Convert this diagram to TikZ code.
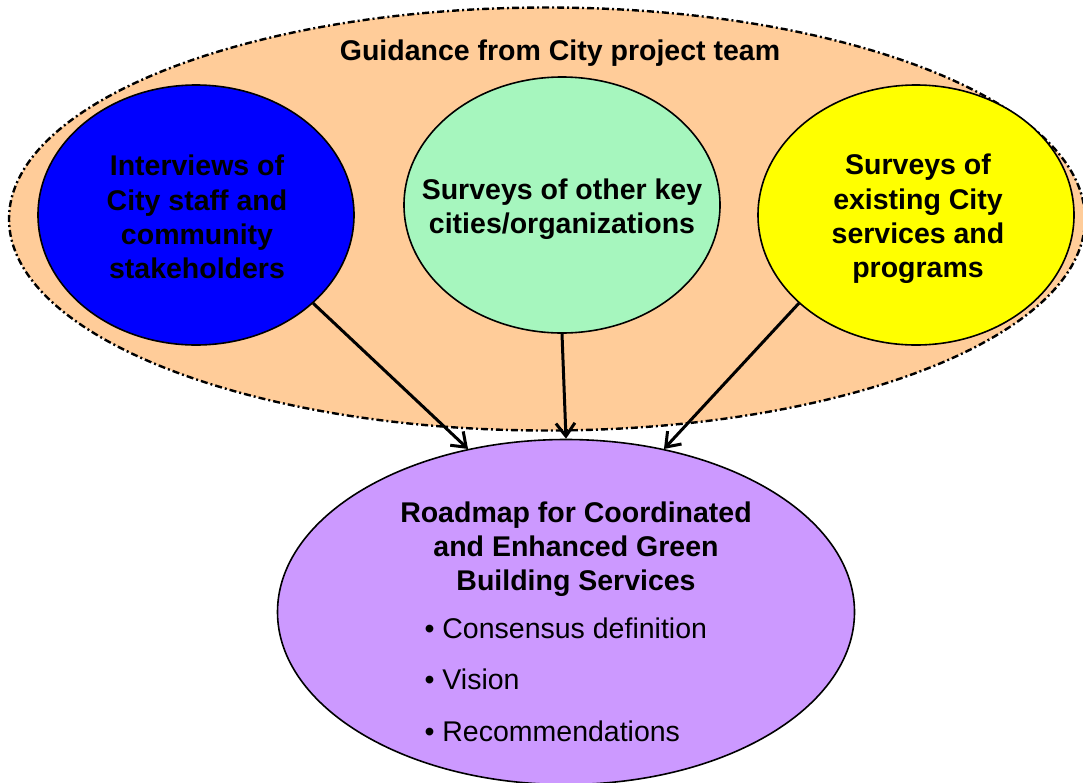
\documentclass[tikz,border=0pt]{standalone}
\usepackage{fontspec}
\setmainfont{Liberation Sans}
\usetikzlibrary{shapes.geometric,arrows.meta}
\definecolor{peach}{HTML}{FFCC99}
\definecolor{bblue}{HTML}{0000FF}
\definecolor{mint}{HTML}{A6F6BE}
\definecolor{yel}{HTML}{FFFF00}
\definecolor{lilac}{HTML}{CC99FF}
\tikzset{
  oval/.style={ellipse, draw=black, line width=1.6pt, inner sep=0pt},
  lbl/.style={font=\fontsize{28.5}{34.3}\selectfont\bfseries, align=center, text=black},
  conn/.style={line width=3pt, -{Straight Barb[length=13pt,width=19pt,line width=3pt]}},
}
\begin{document}
\begin{tikzpicture}[x=1pt,y=-1pt]
\useasboundingbox (0,0) rectangle (1083,782);
\node[ellipse, fill=peach, draw=black, line width=2.4pt, dash pattern=on 7pt off 3pt on 2pt off 3pt, minimum width=1076pt, minimum height=423pt, inner sep=0pt] (team) at (547,219) {};
\node[lbl] (teamtxt) at (560,53) {Guidance from City project team};
\node[oval, fill=bblue, minimum width=316pt, minimum height=260pt] (blue) at (196,215) {};
\node[oval, fill=mint, minimum width=316pt, minimum height=256pt] (green) at (562,205) {};
\node[oval, fill=yel, minimum width=316pt, minimum height=260pt] (yellow) at (916,215) {};
\node[oval, fill=lilac, minimum width=577pt, minimum height=345pt] (road) at (566,612) {};
\node[lbl] (bluetxt) at (197,217) {Interviews of\\City staff and\\community\\stakeholders};
\node[lbl] (greentxt) at (562,209) {Surveys of other key\\cities/organizations};
\node[lbl] (yellowtxt) at (918,219) {Surveys of\\existing City\\services and\\programs};
\node[lbl] (roadtxt) at (576,549) {Roadmap for Coordinated\\and Enhanced Green\\Building Services};
\node[font=\fontsize{28.5}{51.5}\selectfont, align=left, anchor=north west] (bullets) at (421,614) {• Consensus definition\\• Vision\\• Recommendations};
\draw[conn] (blue.-37) -- (road.121);
\draw[conn] (green.south) -- (road.north);
\draw[conn] (yellow.217) -- (road.59);
\end{tikzpicture}
\end{document}
